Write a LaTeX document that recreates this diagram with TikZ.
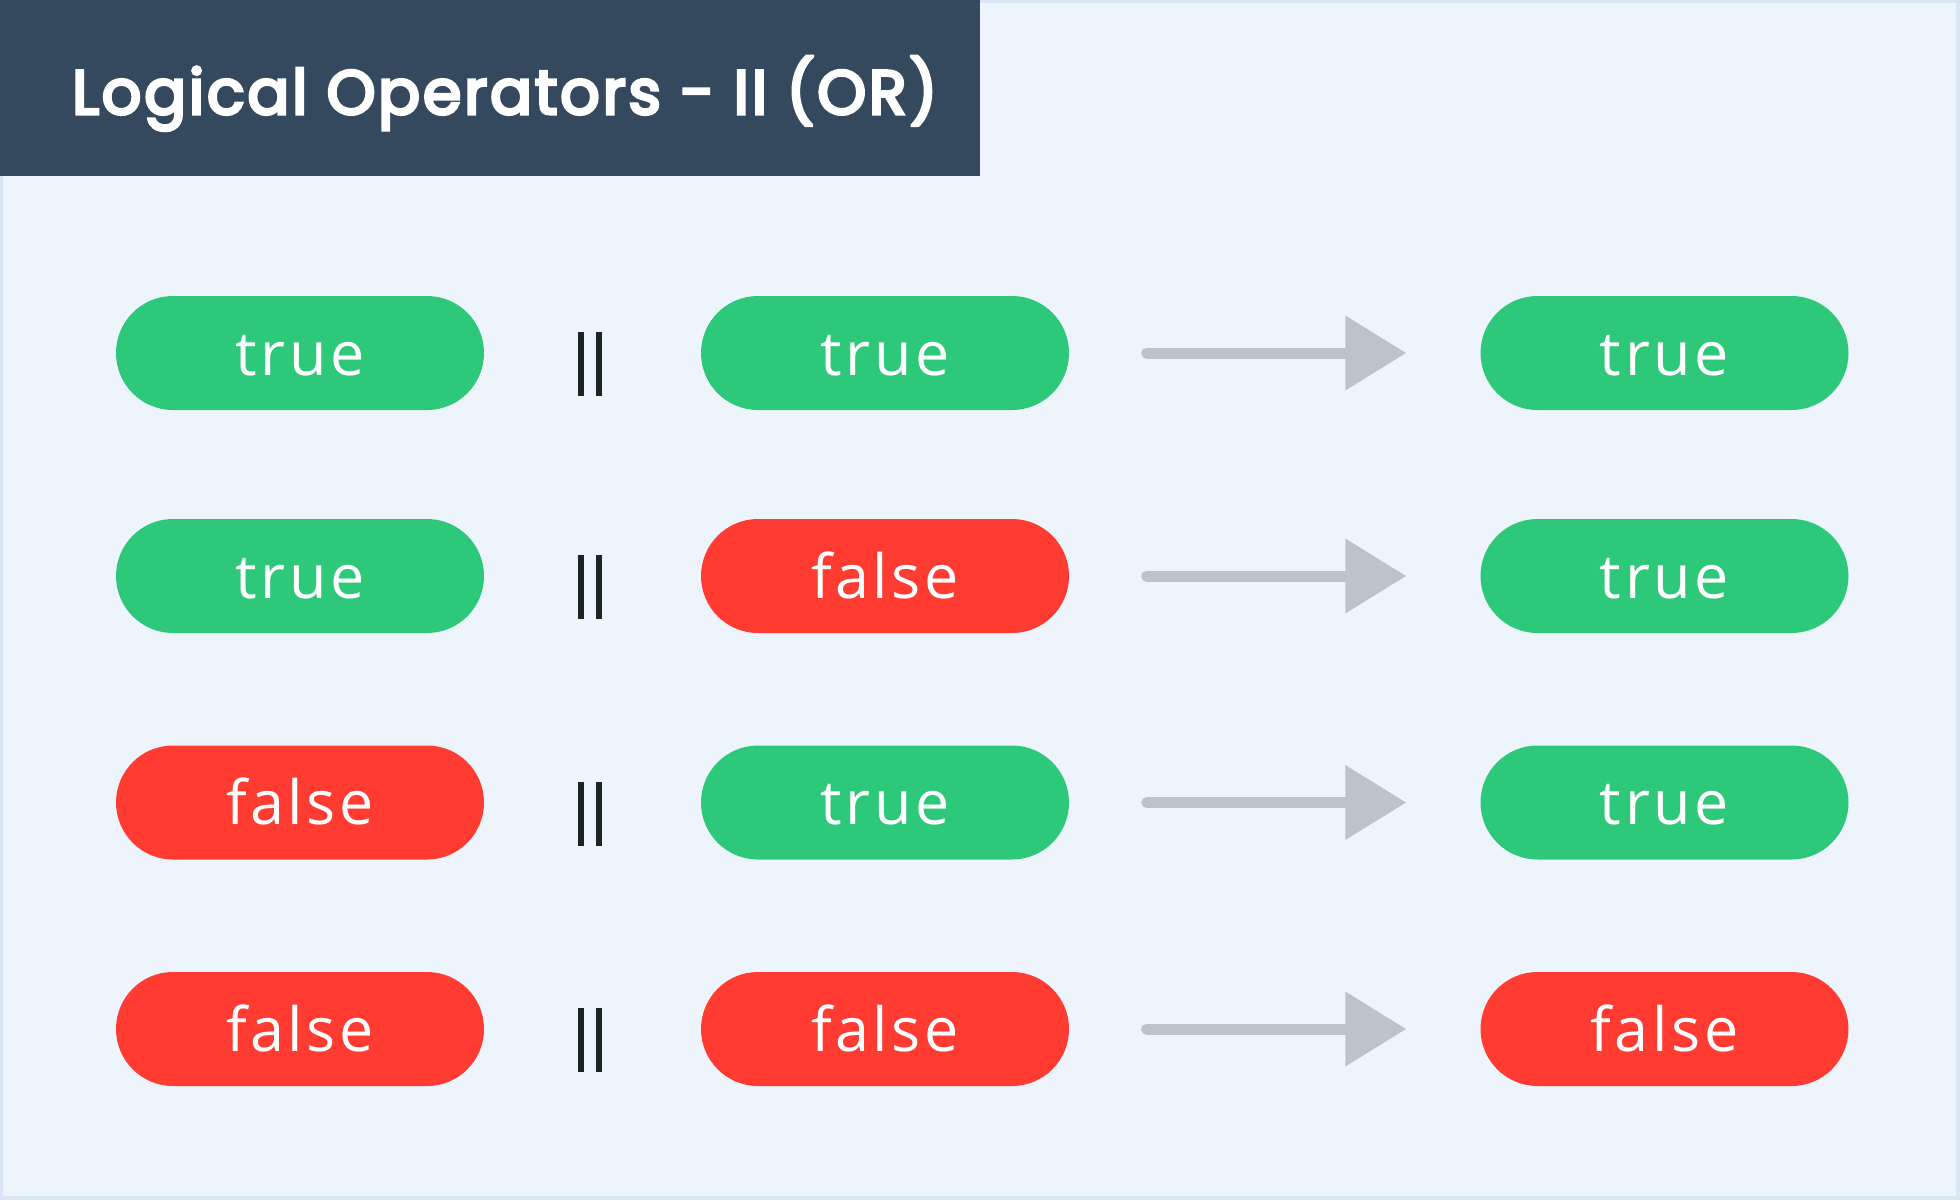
\documentclass[tikz,border=0pt]{standalone}
\usepackage{fontspec}
\usetikzlibrary{arrows.meta}
\newfontfamily\titlefont{Poppins}[LetterSpace=4.5,FakeBold=5]
\newfontfamily\pillfont{Open Sans}[LetterSpace=6]
\definecolor{panel}{HTML}{EEF4FB}
\definecolor{panelline}{HTML}{DAE6F4}
\definecolor{titlebar}{HTML}{34495E}
\definecolor{okgreen}{HTML}{2EC87B}
\definecolor{nored}{HTML}{FF3B32}
\definecolor{arrowgray}{HTML}{BDC3C7}
\definecolor{opdark}{HTML}{1B2621}
\tikzset{
    pill/.style={rectangle, rounded corners=57pt, minimum width=368pt, minimum height=114pt,
        inner sep=0pt, text=white, font=\pillfont\fontsize{61}{61}\selectfont,
        text height=44pt, text depth=0pt},
    true pill/.style={pill, fill=okgreen},
    false pill/.style={pill, fill=nored},
    orsign/.style={inner sep=0pt, text=opdark},
    result/.style={draw=arrowgray, line width=11pt, line cap=round,
        -{Triangle[length=61pt,width=72pt]}, shorten <=77.5pt, shorten >=74pt}
}

\begin{document}
\begin{tikzpicture}[x=1pt,y=-1pt]
\useasboundingbox (0,0) rectangle (1960,1200);
% panel and title bar
\fill[panelline] (0,0) rectangle (1960,1200);
\fill[panel] (3,3) rectangle (1956,1196);
\fill[titlebar] (0,0) rectangle (980,176);
\node[anchor=base west, inner sep=0pt, text=white, font=\titlefont\fontsize{62}{62}\selectfont] (title) at (72,114) {Logical Operators - II (OR)};
% one row per case: left || right -> result
\foreach \row/\y/\a/\b/\c in {1/353/true/true/true, 2/576/true/false/true, 3/802.5/false/true/true, 4/1029/false/false/false}{
    \node[\a\space pill] (lhs\row) at (300,\y) {\a};
    \node[\b\space pill] (rhs\row) at (885,\y) {\b};
    \node[\c\space pill] (res\row) at (1664.5,\y) {\c};
    \node[orsign] (or\row) at (590,\y+11) {\rule{6pt}{64pt}\hspace{11.7pt}\rule{6pt}{64pt}};
    \draw[result] (rhs\row) -- (res\row);
}
\end{tikzpicture}
\end{document}
